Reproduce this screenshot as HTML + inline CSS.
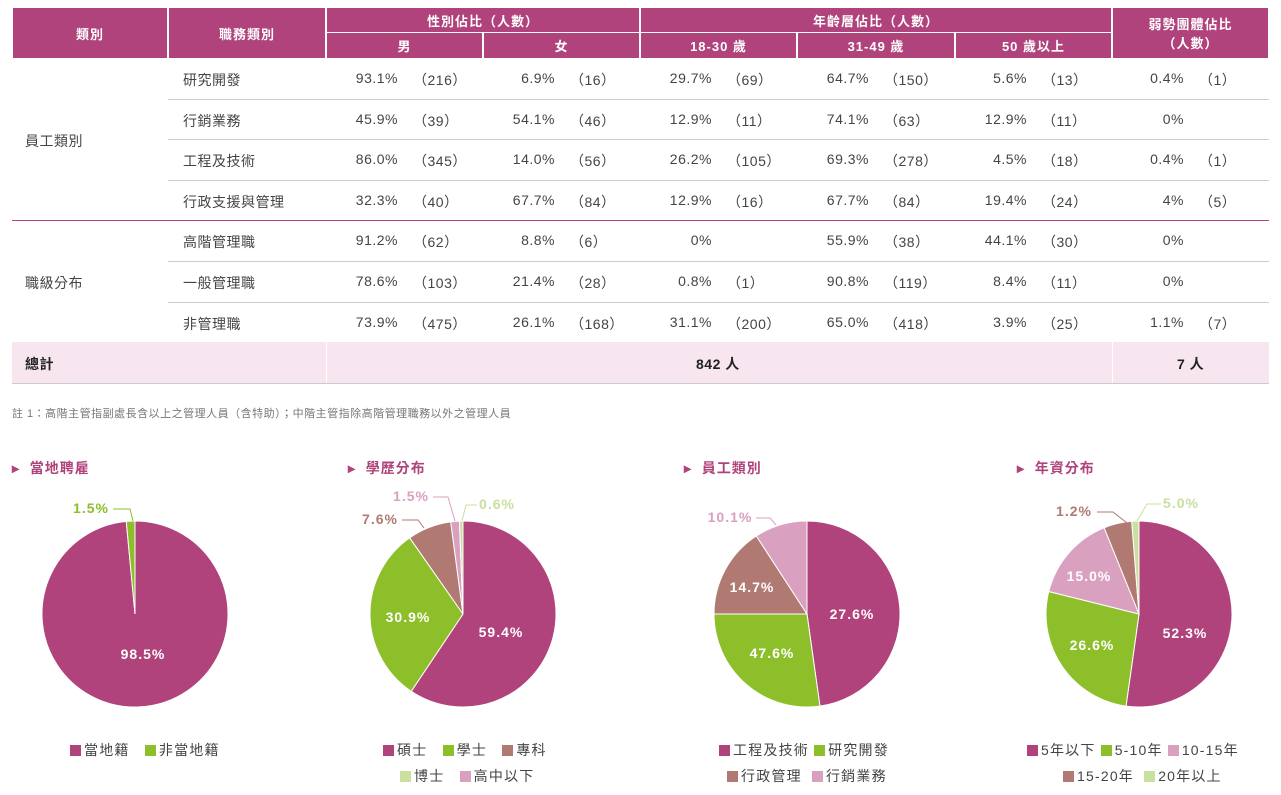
<!DOCTYPE html>
<html><head><meta charset="utf-8"><style>
body{margin:0;width:1281px;height:795px;background:#fff;font-family:"Liberation Sans","Noto Sans CJK TC",sans-serif;position:relative;overflow:hidden;color:#333}
.a{position:absolute}
.h{background:#b0437b;color:#fff;font-weight:bold;font-size:13px;display:flex;align-items:center;justify-content:center;box-sizing:border-box;text-align:center;letter-spacing:1px}
.c{position:absolute;font-size:14px;color:#444;white-space:pre;letter-spacing:0.5px}
.ln{position:absolute;height:1px;background:#ccc}
.tt{position:absolute;color:#b0437b;font-weight:bold;font-size:14px;letter-spacing:1px;white-space:pre}
.lg{position:absolute;font-size:14px;color:#444;white-space:nowrap;letter-spacing:1.2px}
.sq{display:inline-block;width:11px;height:11px;margin-right:3px;vertical-align:-1px}
</style></head><body>
<div id="hd"></div>
<div id="bd"></div>
<div class="a" style="left:12px;top:342px;width:1257px;height:41px;background:#f7e6ef"></div>
<div class="a" style="left:326px;top:342px;width:1px;height:41px;background:#fff"></div>
<div class="a" style="left:1112px;top:342px;width:1px;height:41px;background:#fff"></div>
<div class="c" style="left:25px;top:354px;font-weight:bold;color:#222">總計</div>
<div class="c" style="left:696px;top:354px;font-weight:bold;color:#222">842 人</div>
<div class="c" style="left:1177px;top:354px;font-weight:bold;color:#222">7 人</div>
<div class="a" style="left:12px;top:383px;width:1257px;height:1px;background:#ccc"></div>
<div class="c" style="left:12px;top:405px;font-size:11px;color:#777">註 1：高階主管指副處長含以上之管理人員（含特助）；中階主管指除高階管理職務以外之管理人員</div>
<svg class="a" style="left:0;top:0" width="1281" height="795" id="sv"></svg>
<div class="tt" style="left:12px;top:458px">▸  當地聘雇</div>
<div class="tt" style="left:348px;top:458px">▸  學歷分布</div>
<div class="tt" style="left:684px;top:458px">▸  員工類別</div>
<div class="tt" style="left:1017px;top:458px">▸  年資分布</div>
<div class="lg" style="left:70px;top:740px"><span class="sq" style="background:#b0437b"></span>當地籍 &nbsp; <span class="sq" style="background:#8dbf2a"></span>非當地籍</div>
<div class="lg" style="left:383px;top:740px"><span class="sq" style="background:#b0437b"></span>碩士 &nbsp; <span class="sq" style="background:#8dbf2a"></span>學士 &nbsp; <span class="sq" style="background:#b07a73"></span>專科</div>
<div class="lg" style="left:400px;top:766px"><span class="sq" style="background:#c9e0a0"></span>博士 &nbsp; <span class="sq" style="background:#d9a0c0"></span>高中以下</div>
<div class="lg" style="left:719px;top:740px"><span class="sq" style="background:#b0437b"></span>工程及技術 <span class="sq" style="background:#8dbf2a"></span>研究開發</div>
<div class="lg" style="left:727px;top:766px"><span class="sq" style="background:#b07a73"></span>行政管理 &nbsp;<span class="sq" style="background:#d9a0c0"></span>行銷業務</div>
<div class="lg" style="left:1027px;top:740px"><span class="sq" style="background:#b0437b"></span>5年以下 <span class="sq" style="background:#8dbf2a"></span>5-10年 <span class="sq" style="background:#d9a0c0"></span>10-15年</div>
<div class="lg" style="left:1063px;top:766px"><span class="sq" style="background:#b07a73"></span>15-20年 &nbsp;<span class="sq" style="background:#c9e0a0"></span>20年以上</div>
<script>
var hd=document.getElementById('hd'),bd=document.getElementById('bd');
function H(x1,x2,y1,y2,t){var d=document.createElement('div');d.className='a h';d.style.cssText='left:'+(x1+1)+'px;top:'+y1+'px;width:'+(x2-x1-2)+'px;height:'+(y2-y1)+'px';d.innerHTML=t;hd.appendChild(d);}
var X=[12,168,326,483,640,797,955,1112,1269];
H(12,168,8,58,'類別');H(168,326,8,58,'職務類別');H(326,640,8,32,'性別佔比（人數）');H(640,1112,8,32,'年齡層佔比（人數）');
H(1112,1269,8,58,'弱勢團體佔比<br>（人數）');
H(326,483,33,58,'男');H(483,640,33,58,'女');H(640,797,33,58,'18-30 歲');H(797,955,33,58,'31-49 歲');H(955,1112,33,58,'50 歲以上');
var rows=[['研究開發','93.1%','(216)','6.9%','(16)','29.7%','(69)','64.7%','(150)','5.6%','(13)','0.4%','(1)'],
['行銷業務','45.9%','(39)','54.1%','(46)','12.9%','(11)','74.1%','(63)','12.9%','(11)','0%',''],
['工程及技術','86.0%','(345)','14.0%','(56)','26.2%','(105)','69.3%','(278)','4.5%','(18)','0.4%','(1)'],
['行政支援與管理','32.3%','(40)','67.7%','(84)','12.9%','(16)','67.7%','(84)','19.4%','(24)','4%','(5)'],
['高階管理職','91.2%','(62)','8.8%','(6)','0%','','55.9%','(38)','44.1%','(30)','0%',''],
['一般管理職','78.6%','(103)','21.4%','(28)','0.8%','(1)','90.8%','(119)','8.4%','(11)','0%',''],
['非管理職','73.9%','(475)','26.1%','(168)','31.1%','(200)','65.0%','(418)','3.9%','(25)','1.1%','(7)']];
var s='';
rows.forEach(function(r,i){var y=58+i*40.6,ty=y+12;
s+='<div class="c" style="left:183px;top:'+ty+'px">'+r[0]+'</div>';
for(var k=0;k<6;k++){var x=X[k+2];s+='<div class="c" style="left:'+(x+10)+'px;top:'+ty+'px;width:62px;text-align:right">'+r[1+2*k]+'</div>';
s+='<div class="c" style="left:'+(x+87)+'px;top:'+ty+'px">'+r[2+2*k].replace('(','（').replace(')','）')+'</div>';}
var ly=Math.round(y+40.6);
if(i<6){if(i==3)s+='<div class="ln" style="left:12px;top:'+ly+'px;width:1257px;background:#b0437b"></div>';else s+='<div class="ln" style="left:168px;top:'+ly+'px;width:1101px"></div>';}
else s+='<div class="ln" style="left:12px;top:'+ly+'px;width:1257px;background:#b0437b"></div>';});
s+='<div class="c" style="left:25px;top:131px">員工類別</div><div class="c" style="left:25px;top:273px">職級分布</div>';
bd.innerHTML=s;
var C={m:'#b0437b',g:'#8dbf2a',b:'#b07a73',p:'#d9a0c0',l:'#c9e0a0'};
var sv='';
function P(cx,cy,r,sl){sl.forEach(function(q){var a0=(q[0]-90)*Math.PI/180,a1=(q[1]-90)*Math.PI/180;
var x0=cx+r*Math.cos(a0),y0=cy+r*Math.sin(a0),x1=cx+r*Math.cos(a1),y1=cy+r*Math.sin(a1);
sv+='<path d="M'+cx+' '+cy+'L'+x0+' '+y0+'A'+r+' '+r+' 0 '+((q[1]-q[0])>180?1:0)+' 1 '+x1+' '+y1+'Z" fill="'+C[q[2]]+'" stroke="#fff" stroke-width="1"/>';});}
function T(x,y,t,c){sv+='<text x="'+x+'" y="'+y+'" fill="'+(c||'#fff')+'" font-size="14" font-weight="bold" font-family="Liberation Sans" text-anchor="middle" letter-spacing="1">'+t+'</text>';}
function L(p,c){sv+='<polyline points="'+p+'" fill="none" stroke="'+c+'" stroke-width="1"/>';}
P(135,614,93,[[0,354.6,'m'],[354.6,360,'g']]);T(143,659,'98.5%');T(91,513,'1.5%','#8dbf2a');L('113,509 130,509 133,521','#8dbf2a');
P(463,614,93,[[0,213.8,'m'],[213.8,325,'g'],[325,352.4,'b'],[352.4,357.8,'p'],[357.8,360,'l']]);
T(501,637,'59.4%');T(408,622,'30.9%');T(380,524,'7.6%','#b07a73');T(411,501,'1.5%','#d9a0c0');T(497,509,'0.6%','#c9e0a0');
L('402,520 418,520 424,528','#b07a73');L('433,497 448,497 455,521','#d9a0c0');L('477,505 466,505 462,521','#c9e0a0');
P(807,614,93,[[0,172,'m'],[172,270,'g'],[270,327,'b'],[327,360,'p']]);
T(852,619,'27.6%');T(772,658,'47.6%');T(752,592,'14.7%');T(730,522,'10.1%','#d9a0c0');L('756,518 770,518 776,525','#d9a0c0');
P(1139,614,93,[[0,188,'m'],[188,284,'g'],[284,338,'p'],[338,355.5,'b'],[355.5,360,'l']]);
T(1185,638,'52.3%');T(1092,650,'26.6%');T(1089,581,'15.0%');T(1074,516,'1.2%','#b07a73');T(1181,508,'5.0%','#c9e0a0');
L('1097,512 1113,512 1127,523','#b07a73');L('1161,504 1147,504 1137,521','#c9e0a0');
document.getElementById('sv').innerHTML=sv;
</script>
</body></html>
